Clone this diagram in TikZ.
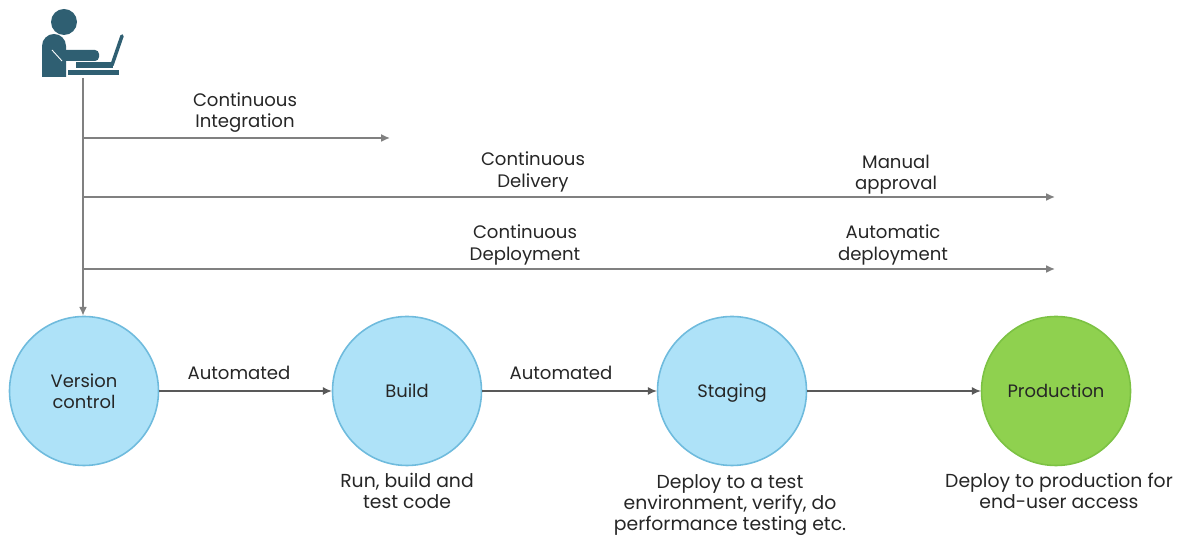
\documentclass[tikz,border=0pt]{standalone}
\usepackage{fontspec}
\setmainfont{Poppins}
\usetikzlibrary{arrows.meta}
\definecolor{stagefill}{HTML}{AEE2F8}
\definecolor{stageline}{HTML}{6FBBDD}
\definecolor{prodfill}{HTML}{8FD14F}
\definecolor{prodline}{HTML}{7CC243}
\definecolor{iconcol}{HTML}{2F5F72}
\tikzset{
	stage/.style={circle,draw=stageline,fill=stagefill,line width=0.9pt,minimum size=2.98cm,inner sep=0pt,align=center,text=black!85,font=\fontsize{10.2}{12}\selectfont},
	prod/.style={stage,draw=prodline,fill=prodfill},
	lbl/.style={align=center,text=black!85,font=\fontsize{10.3}{12}\selectfont},
	note/.style={lbl,font=\fontsize{10.7}{12}\selectfont},
	flow/.style={draw=black!65,line width=0.6pt,-{Latex[length=5pt,width=4.5pt]}},
	track/.style={draw=black!50,line width=0.9pt,-{Latex[length=5pt,width=4.5pt]}},
}
\begin{document}
\begin{tikzpicture}
	\useasboundingbox (0,0) rectangle (23.62,10.72);
	% person at laptop
	\fill[iconcol] (1.28,10.28) circle (0.26);
	\fill[iconcol] (0.84,9.18) [rounded corners=0.24cm] -- (0.84,10.04) -- (1.32,10.04) [sharp corners] -- (1.32,9.18) -- cycle;
	\fill[iconcol,rounded corners=0.08cm] (1.2,9.5) rectangle (1.98,9.72);
	\draw[white,line width=0.5pt] (1.04,9.72) -- (1.24,9.5);
	\fill[iconcol] (1.52,9.36) rectangle (2.26,9.47);
	\draw[iconcol,line width=2pt,line cap=round] (2.24,9.42) -- (2.44,10.0);
	\fill[iconcol] (1.36,9.21) rectangle (2.38,9.32);
	% tracks
	\coordinate (user) at (1.66,9.16);
	\coordinate (ciFork) at (1.66,7.96);
	\coordinate (cdFork) at (1.66,6.78);
	\coordinate (cpFork) at (1.66,5.34);
	\coordinate (ciEnd) at (7.8,7.96);
	\coordinate (cdEnd) at (21.1,6.78);
	\coordinate (cpEnd) at (21.1,5.34);
	\node[stage] (version) at (1.68,2.9) {Version\\control};
	\node[stage] (build) at (8.14,2.9) {Build};
	\node[stage,text depth=0pt] (staging) at (14.64,2.9) {Staging};
	\node[prod] (production) at (21.12,2.9) {Production};
	\draw[track] (user) -- (user |- version.north);
	\draw[track] (ciFork) -- (ciEnd);
	\draw[track] (cdFork) -- (cdEnd);
	\draw[track] (cpFork) -- (cpEnd);
	\draw[flow] (version) -- (build);
	\draw[flow] (build) -- (staging);
	\draw[flow] (staging) -- (production);
	% labels
	\node[lbl] (ciText) at (4.9,8.47) {Continuous\\Integration};
	\node[lbl] (cdText) at (10.66,7.28) {Continuous\\Delivery};
	\node[lbl] (cpText) at (10.5,5.82) {Continuous\\Deployment};
	\node[lbl] (manual) at (17.92,7.22) {Manual\\approval};
	\node[lbl] (autoDep) at (17.86,5.82) {Automatic\\deployment};
	\node[lbl] (autoA) at (4.78,3.26) {Automated};
	\node[lbl] (autoB) at (11.22,3.26) {Automated};
	\node[note] (buildText) at (8.14,0.9) {Run, build and\\test code};
	\node[note] (stagingText) at (14.6,0.62) {Deploy to a test\\environment, verify, do\\performance testing etc.};
	\node[note] (prodText) at (21.18,0.9) {Deploy to production for\\end-user access};
\end{tikzpicture}
\end{document}
